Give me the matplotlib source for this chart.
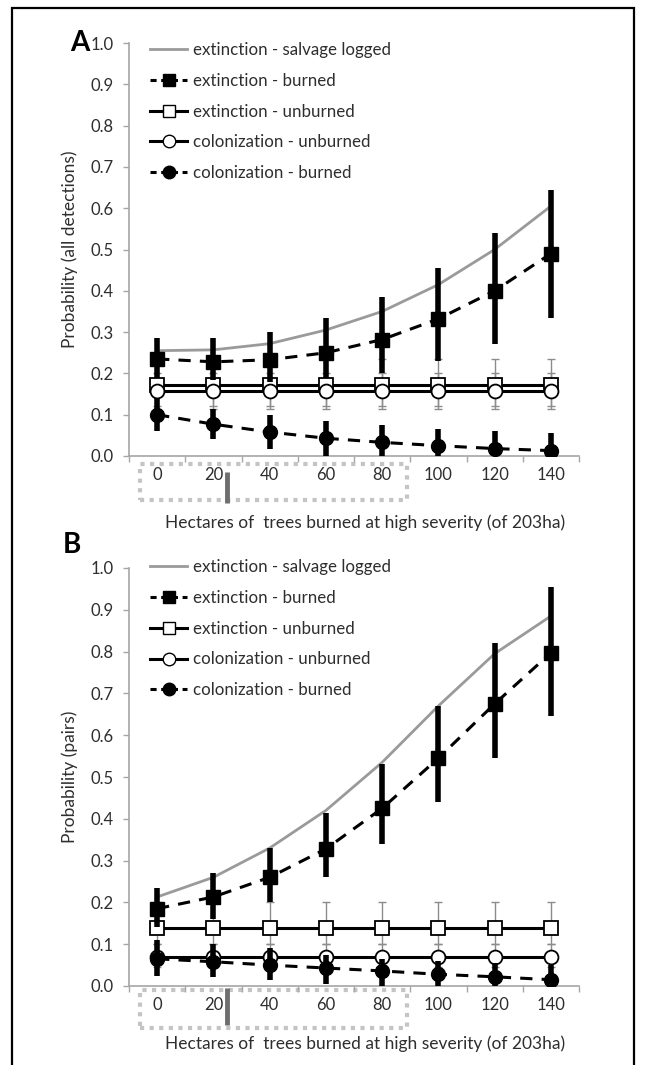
import matplotlib
matplotlib.use("Agg")
import matplotlib.pyplot as plt
import matplotlib.transforms as mtransforms
from matplotlib.patches import Rectangle
from matplotlib.lines import Line2D

plt.rcParams['font.family'] = ['Lato', 'DejaVu Sans']

# hectares burned at high severity
hectares = [0, 20, 40, 60, 80, 100, 120, 140]

# panel A - all detections
a_salvage = [0.255, 0.257, 0.272, 0.305, 0.350, 0.415, 0.500, 0.605]
a_ext_burned = [0.235, 0.228, 0.233, 0.250, 0.282, 0.332, 0.400, 0.490]
a_ext_burned_lo = [0.190, 0.185, 0.180, 0.190, 0.200, 0.230, 0.270, 0.335]
a_ext_burned_hi = [0.285, 0.285, 0.300, 0.335, 0.385, 0.455, 0.540, 0.645]
a_ext_unburned = [0.172] * 8
a_ext_unburned_lo = [0.120] * 8
a_ext_unburned_hi = [0.235] * 8
a_col_unburned = [0.158] * 8
a_col_unburned_lo = [0.115] * 8
a_col_unburned_hi = [0.200] * 8
a_col_burned = [0.100, 0.077, 0.058, 0.043, 0.033, 0.025, 0.018, 0.013]
a_col_burned_lo = [0.060, 0.040, 0.018, 0.000, 0.000, 0.000, 0.000, 0.000]
a_col_burned_hi = [0.140, 0.115, 0.100, 0.085, 0.075, 0.065, 0.060, 0.055]

# panel B - pairs
b_salvage = [0.213, 0.260, 0.330, 0.420, 0.535, 0.670, 0.795, 0.885]
b_ext_burned = [0.185, 0.213, 0.260, 0.328, 0.425, 0.545, 0.675, 0.797]
b_ext_burned_lo = [0.140, 0.160, 0.200, 0.260, 0.340, 0.440, 0.545, 0.645]
b_ext_burned_hi = [0.235, 0.270, 0.330, 0.415, 0.530, 0.670, 0.820, 0.955]
b_ext_unburned = [0.138] * 8
b_ext_unburned_lo = [0.100] * 8
b_ext_unburned_hi = [0.200] * 8
b_col_unburned = [0.070] * 8
b_col_unburned_lo = [0.045] * 8
b_col_unburned_hi = [0.100] * 8
b_col_burned = [0.065, 0.058, 0.050, 0.043, 0.036, 0.028, 0.022, 0.015]
b_col_burned_lo = [0.025, 0.022, 0.015, 0.005, 0.000, 0.000, 0.000, 0.000]
b_col_burned_hi = [0.110, 0.100, 0.090, 0.075, 0.065, 0.060, 0.055, 0.050]

series_names = ["extinction - salvage logged", "extinction - burned",
                "extinction - unburned", "colonization - unburned",
                "colonization - burned"]
y_ticks = [0.0, 0.1, 0.2, 0.3, 0.4, 0.5, 0.6, 0.7, 0.8, 0.9, 1.0]
x_title = "Hectares of  trees burned at high severity (of 203ha)"

# dotted box around the 0-80 labels, grey marker at about 25 ha
box_x = (-6, 89)
marker_x = 25

W, H = 645, 1065
fig = plt.figure(figsize=(W / 100, H / 100), dpi=100)
TXT = '#2e2e2e'
AXC = '#a6a6a6'


def err(v, lo, hi):
    return [[a - b for a, b in zip(v, lo)], [b - a for a, b in zip(v, hi)]]


def panel(rect, letter, letter_xy, ylabel, salvage, eb, eb_lo, eb_hi,
          eu, eu_lo, eu_hi, cu, cu_lo, cu_hi, cb, cb_lo, cb_hi,
          leg_top, box_px, bar_px, xlab_px):
    l, t, r, b = rect
    ax = fig.add_axes([l / W, 1 - b / H, (r - l) / W, (b - t) / H])
    hpx = b - t

    # thin error bars of the unburned series
    ax.errorbar(hectares, eu, yerr=err(eu, eu_lo, eu_hi), fmt='none',
                ecolor='#8c8c8c', elinewidth=1, capsize=3, capthick=1, zorder=2)
    ax.errorbar(hectares, cu, yerr=err(cu, cu_lo, cu_hi), fmt='none',
                ecolor='#8c8c8c', elinewidth=1, capsize=3, capthick=1, zorder=2)
    ax.plot(hectares, salvage, color='#9a9a9a', lw=2, zorder=3)
    ax.plot(hectares, eu, color='black', lw=2.2, marker='s', ms=10,
            mfc='white', mec='black', mew=1.3, zorder=4)
    ax.plot(hectares, cu, color='black', lw=2.2, marker='o', ms=10,
            mfc='white', mec='black', mew=1.3, zorder=4)
    ax.errorbar(hectares, eb, yerr=err(eb, eb_lo, eb_hi), fmt='none',
                ecolor='black', elinewidth=4, capsize=0, zorder=5)
    ax.plot(hectares, eb, color='black', lw=2.2, ls=(0, (4, 3)), marker='s',
            ms=10, mfc='black', mec='black', zorder=6)
    ax.errorbar(hectares, cb, yerr=err(cb, cb_lo, cb_hi), fmt='none',
                ecolor='black', elinewidth=4, capsize=0, zorder=5)
    ax.plot(hectares, cb, color='black', lw=2.2, ls=(0, (4, 3)), marker='o',
            ms=10, mfc='black', mec='black', zorder=6)

    ax.set_xlim(-10, 150)
    ax.set_ylim(0, 1.0)
    ax.set_yticks(y_ticks)
    ax.set_yticklabels([f"{v:.1f}" for v in y_ticks])
    ax.set_xticks(hectares)
    ax.set_xticks([h - 10 for h in hectares] + [150], minor=True)
    for s in ('top', 'right'):
        ax.spines[s].set_visible(False)
    for s in ('left', 'bottom'):
        ax.spines[s].set_color(AXC)
        ax.spines[s].set_linewidth(1.2)
    ax.tick_params(axis='y', colors=AXC, labelcolor=TXT, labelsize=12,
                   length=4, width=1, pad=7)
    ax.tick_params(axis='x', which='major', length=0, labelcolor=TXT,
                   labelsize=12, pad=8)
    ax.tick_params(axis='x', which='minor', length=4, width=1, colors=AXC)

    ax.set_ylabel(ylabel, fontsize=12.5, color=TXT)
    ax.yaxis.set_label_coords(-0.113, 0.5)
    ax.set_xlabel(x_title, fontsize=12.5, color=TXT)
    ax.xaxis.set_label_coords(0.525, -xlab_px / hpx)
    ax.xaxis.label.set_va('center')

    trans = mtransforms.blended_transform_factory(ax.transData, ax.transAxes)
    y0 = -box_px[1] / hpx
    y1 = -box_px[0] / hpx
    box = Rectangle((box_x[0], y0), box_x[1] - box_x[0], y1 - y0,
                    transform=trans, fill=False, ec='#c4c4c4', lw=3,
                    ls=(0, (1, 1.3)), clip_on=False)
    ax.add_patch(box)
    ax.plot([marker_x, marker_x], [-bar_px[0] / hpx, -bar_px[1] / hpx],
            transform=trans, color='#6e6e6e', lw=3.5, clip_on=False,
            solid_capstyle='butt')

    handles = [
        Line2D([], [], color='#9a9a9a', lw=2),
        Line2D([], [], color='black', lw=2.2, ls=(0, (2, 1.5)), marker='s',
               ms=9, mfc='black'),
        Line2D([], [], color='black', lw=2.2, marker='s', ms=9, mfc='white'),
        Line2D([], [], color='black', lw=2.2, marker='o', ms=9, mfc='white'),
        Line2D([], [], color='black', lw=2.2, ls=(0, (2, 1.5)), marker='o',
               ms=9, mfc='black'),
    ]
    leg = ax.legend(handles, series_names, loc='upper left',
                    bbox_to_anchor=(0.047, leg_top), frameon=False,
                    fontsize=12.2, handlelength=2.2, handletextpad=0.3,
                    labelspacing=0.87, borderaxespad=0.0, borderpad=0.0)
    for txt in leg.get_texts():
        txt.set_color(TXT)

    fig.text(letter_xy[0] / W, 1 - letter_xy[1] / H, letter, fontsize=20,
             fontweight='bold', ha='center', va='center', color='black')
    return ax


axA = panel((129, 43, 579, 456), 'A', (80, 43), "Probability (all detections)",
            a_salvage, a_ext_burned, a_ext_burned_lo, a_ext_burned_hi,
            a_ext_unburned, a_ext_unburned_lo, a_ext_unburned_hi,
            a_col_unburned, a_col_unburned_lo, a_col_unburned_hi,
            a_col_burned, a_col_burned_lo, a_col_burned_hi,
            1.002, (8, 44), (16, 47), 67)

axB = panel((129, 568, 579, 986), 'B', (72, 545), "Probability (pairs)",
            b_salvage, b_ext_burned, b_ext_burned_lo, b_ext_burned_hi,
            b_ext_unburned, b_ext_unburned_lo, b_ext_unburned_hi,
            b_col_unburned, b_col_unburned_lo, b_col_unburned_hi,
            b_col_burned, b_col_burned_lo, b_col_burned_hi,
            1.021, (4, 42), (2, 39), 58)

# outer frame of the figure
fig.patches.append(Rectangle((12 / W, -0.05), (634 - 12) / W, 1.05 - 8 / H,
                             transform=fig.transFigure, fill=False,
                             ec='black', lw=1.6))

fig.savefig("out.png", dpi=100)
